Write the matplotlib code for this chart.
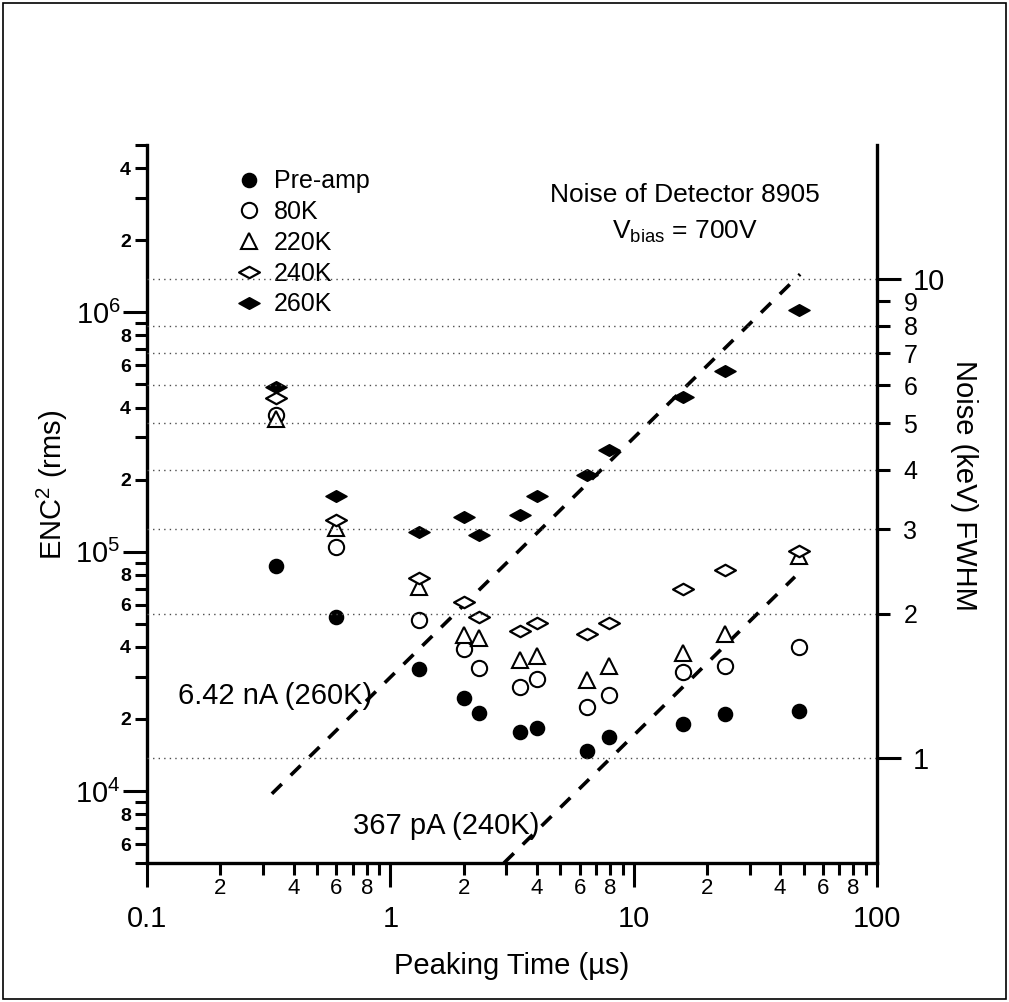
import numpy as np
import matplotlib
matplotlib.use("Agg")
import matplotlib.pyplot as plt
from matplotlib.path import Path
from matplotlib.ticker import LogLocator, FixedLocator, FuncFormatter
from matplotlib.lines import Line2D
from matplotlib.patches import Rectangle

plt.rcParams['font.family'] = ['Liberation Sans', 'DejaVu Sans']
plt.rcParams['mathtext.fontset'] = 'custom'
plt.rcParams['mathtext.rm'] = 'Liberation Sans'
plt.rcParams['mathtext.it'] = 'Liberation Sans'
plt.rcParams['mathtext.default'] = 'regular'
plt.rcParams['lines.scale_dashes'] = False

# ---------------- data ----------------
peaking_time = [0.34, 0.60, 1.31, 2.0, 2.32, 3.4, 4.0, 6.4, 7.9, 16.0, 23.8, 47.9]

enc2_preamp = [8.74e4, 5.35e4, 3.24e4, 2.45e4, 2.12e4, 1.77e4, 1.83e4, 1.47e4, 1.68e4, 1.90e4, 2.10e4, 2.15e4]
enc2_80K    = [3.74e5, 1.05e5, 5.19e4, 3.93e4, 3.27e4, 2.72e4, 2.94e4, 2.25e4, 2.52e4, 3.15e4, 3.33e4, 4.01e4]
enc2_220K   = [3.57e5, 1.26e5, 7.14e4, 4.50e4, 4.37e4, 3.53e4, 3.67e4, 2.91e4, 3.33e4, 3.78e4, 4.54e4, 9.62e4]
enc2_240K   = [4.37e5, 1.35e5, 7.78e4, 6.18e4, 5.35e4, 4.67e4, 5.05e4, 4.54e4, 5.05e4, 7.00e4, 8.41e4, 1.01e5]
enc2_260K   = [4.86e5, 1.70e5, 1.21e5, 1.39e5, 1.17e5, 1.42e5, 1.70e5, 2.10e5, 2.65e5, 4.41e5, 5.66e5, 1.02e6]

series_labels = ["Pre-amp", "80K", "220K", "240K", "260K"]

# leakage-current lines: ENC^2 = k * I(pA) * t(us)
current_pA = [6420.0, 367.0]
current_labels = ["6.42 nA (260K)", "367 pA (240K)"]
fit_t_range = [[0.326, 48.3], [2.93, 46.0]]
shot_k = 4.65

# right axis conversion: FWHM(keV) = 2.355 * 3.62 eV * ENC
fwhm_factor = 2.355 * 3.62e-3

x_limits = [0.1, 100]
y_limits = [5e3, 5e6]
right_major = [1, 10]
right_minor = [2, 3, 4, 5, 6, 7, 8, 9]
grid_levels = [1, 2, 3, 4, 5, 6, 7, 8, 10]

# ---------------- figure ----------------
W, H = 1009, 1002
fig = plt.figure(figsize=(W / 100, H / 100), dpi=100)
fig.patches.append(Rectangle((3 / W, 3 / H), 1 - 6 / W, 1 - 6 / H, transform=fig.transFigure,
                             fill=False, lw=1.2, ec='black'))

ax = fig.add_axes([147 / W, 1 - 863 / H, 730 / W, 718 / H])
ax.set_xscale('log')
ax.set_yscale('log')
ax.set_xlim(*x_limits)
ax.set_ylim(*y_limits)
ax.patch.set_alpha(0)

ax2 = ax.twinx()
ax2.set_yscale('log')
ax2.set_ylim(fwhm_factor * np.sqrt(y_limits[0]), fwhm_factor * np.sqrt(y_limits[1]))

for s in ['top', 'right']:
    ax.spines[s].set_visible(False)
for s in ['top', 'left', 'bottom']:
    ax2.spines[s].set_visible(False)
for sp in [ax.spines['left'], ax.spines['bottom'], ax2.spines['right']]:
    sp.set_linewidth(2.4)

# gridlines
for g in grid_levels:
    ax2.axhline(g, ls=(0, (1, 3)), color='0.3', lw=1.0, zorder=0)

# markers
flat_diamond = Path([(-1, 0), (0, 0.55), (1, 0), (0, -0.55), (-1, 0)],
                    [Path.MOVETO, Path.LINETO, Path.LINETO, Path.LINETO, Path.CLOSEPOLY])
styles = [
    dict(marker='o', ms=10, mfc='black', mec='black', mew=1.2),
    dict(marker='o', ms=11, mfc='white', mec='black', mew=1.5),
    dict(marker='^', ms=11, mfc='white', mec='black', mew=1.5),
    dict(marker=flat_diamond, ms=15, mfc='white', mec='black', mew=1.6),
    dict(marker=flat_diamond, ms=15, mfc='black', mec='black', mew=1.2),
]
all_series = [enc2_preamp, enc2_80K, enc2_220K, enc2_240K, enc2_260K]
handles = []
for vals, st, lab in zip(all_series, styles, series_labels):
    ax.plot(peaking_time, vals, ls='none', zorder=3, **st)
    handles.append(Line2D([], [], ls='none', **st))

# dashed fit lines
for I, tr in zip(current_pA, fit_t_range):
    t = np.array(tr)
    ax.plot(t, shot_k * I * t, color='black', lw=2.6, dashes=(10, 9), zorder=2)

# ticks
ax.xaxis.set_major_locator(LogLocator(base=10))
ax.xaxis.set_minor_locator(LogLocator(base=10, subs=np.arange(2, 10)))
ax.yaxis.set_major_locator(LogLocator(base=10))
ax.yaxis.set_minor_locator(LogLocator(base=10, subs=np.arange(2, 10)))


def minor_fmt(v, pos):
    d = int(round(v / 10 ** np.floor(np.log10(v) + 1e-9)))
    return str(d) if d in (2, 4, 6, 8) else ''


def xmajor_fmt(v, pos):
    return '%g' % v


def ymajor_fmt(v, pos):
    return r'$10^{%d}$' % int(round(np.log10(v)))


ax.xaxis.set_major_formatter(FuncFormatter(xmajor_fmt))
ax.xaxis.set_minor_formatter(FuncFormatter(minor_fmt))
ax.yaxis.set_major_formatter(FuncFormatter(ymajor_fmt))
ax.yaxis.set_minor_formatter(FuncFormatter(minor_fmt))

ax.tick_params(axis='both', which='major', direction='out', length=17, width=2.2, color='black')
ax.tick_params(axis='both', which='minor', direction='out', length=8.5, width=2.2, color='black')
ax.tick_params(axis='x', which='major', labelsize=21, pad=13)
ax.tick_params(axis='x', which='minor', labelsize=16, pad=2)
ax.tick_params(axis='y', which='major', labelsize=21, pad=2)
ax.tick_params(axis='y', which='minor', labelsize=14, pad=3)

ax2.yaxis.set_major_locator(FixedLocator(right_major))
ax2.yaxis.set_minor_locator(FixedLocator(right_minor))
ax2.yaxis.set_major_formatter(FuncFormatter(lambda v, p: '%g' % v))
ax2.yaxis.set_minor_formatter(FuncFormatter(lambda v, p: '%g' % v))
ax2.tick_params(axis='y', which='major', direction='out', length=17, width=2.2, labelsize=21, pad=9)
ax2.tick_params(axis='y', which='minor', direction='out', length=9, width=2.2, labelsize=18, pad=10)

# labels
ax.set_xlabel('Peaking Time (\u00b5s)', fontsize=21)
ax.xaxis.set_label_coords(0.5, (863 - 966) / 718)
ax.xaxis.label.set(va='center', ha='center')

ax.set_ylabel(r'ENC$^2$ (rms)', fontsize=21)
ax.yaxis.set_label_coords((52 - 147) / 730, (863 - 485) / 718)
ax.yaxis.label.set(va='center', ha='center', rotation_mode='anchor')

ax2.set_ylabel('Noise (keV) FWHM', fontsize=21, rotation=270)
ax2.yaxis.set_label_coords((964 - 147) / 730, (863 - 485) / 718)
ax2.yaxis.label.set(va='center', ha='center', rotation_mode='anchor')

ax.text(0.737, 0.930, 'Noise of Detector 8905', transform=ax.transAxes, ha='center', va='center', fontsize=19)
ax.text(0.737, 0.879, r'V$_{\mathrm{bias}}$ = 700V', transform=ax.transAxes, ha='center', va='center', fontsize=19)

ax.text(0.308, (863 - 696) / 718, current_labels[0], transform=ax.transAxes, ha='right', va='center', fontsize=21)
ax.text(0.538, (863 - 826) / 718, current_labels[1], transform=ax.transAxes, ha='right', va='center', fontsize=21)

leg = ax.legend(handles, series_labels, loc='upper left', bbox_to_anchor=(0.1226, 0.966),
                frameon=False, fontsize=18, handlelength=1.0, handletextpad=0.5,
                borderpad=0, borderaxespad=0, labelspacing=0.27)

fig.canvas.draw()
for lbl in ax.yaxis.get_minorticklabels():
    lbl.set_fontweight('bold')

fig.savefig('out.png', dpi=100)
